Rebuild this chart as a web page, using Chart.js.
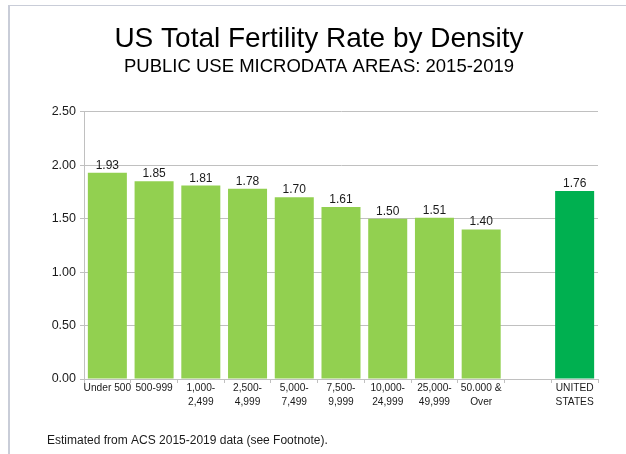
<!DOCTYPE html>
<html>
<head>
<meta charset="utf-8">
<script src="https://cdn.jsdelivr.net/npm/chart.js@4"></script>
<style>
  html, body { margin: 0; padding: 0; background: #ffffff; }
  #wrap { position: relative; width: 626px; height: 454px; overflow: hidden; }
  #frame { position: absolute; left: 8px; top: 5px; right: -2px; bottom: -2px;
           border-top: 1px solid #c9cdd8; border-left: 2px solid #c9cdd8; }
  canvas { position: absolute; left: 0; top: 0; }
</style>
</head>
<body>
<div id="wrap">
  <div id="frame"></div>
  <canvas id="c" width="626" height="454"></canvas>
</div>
<script>
// ---- data ----
const categories = [
  "Under 500", "500-999", ["1,000-", "2,499"], ["2,500-", "4,999"],
  ["5,000-", "7,499"], ["7,500-", "9,999"], ["10,000-", "24,999"],
  ["25,000-", "49,999"], ["50.000 &", "Over"], "", ["UNITED", "STATES"]
];
const fertilityRates = [1.93, 1.85, 1.81, 1.78, 1.70, 1.61, 1.50, 1.51, 1.40, null, 1.76];
const yTickValues = [0, 0.5, 1.0, 1.5, 2.0, 2.5];
const titleText = "US Total Fertility Rate by Density";
const subtitleText = "PUBLIC USE MICRODATA AREAS: 2015-2019";
const footnoteText = "Estimated from ACS 2015-2019 data (see Footnote).";

// ---- styles ----
const LIGHT_GREEN = "#92d050";
const DARK_GREEN = "#00b050";
const GRID = "#c0c0c0";
const SANS = "'Liberation Sans', Arial, sans-serif";

const valueLabels = {
  id: "valueLabels",
  afterDatasetsDraw(chart) {
    const ctx = chart.ctx;
    const meta = chart.getDatasetMeta(0);
    ctx.save();
    ctx.font = "12px " + SANS;
    ctx.fillStyle = "#1a1a1a";
    ctx.textAlign = "center";
    ctx.textBaseline = "alphabetic";
    meta.data.forEach((bar, i) => {
      const v = fertilityRates[i];
      if (v === null) return;
      ctx.fillText(v.toFixed(2), bar.x, bar.y - 4);
    });
    ctx.restore();
  }
};

const footnote = {
  id: "footnote",
  afterDraw(chart) {
    const ctx = chart.ctx;
    ctx.save();
    ctx.font = "12px " + SANS;
    ctx.fillStyle = "#1a1a1a";
    ctx.textAlign = "left";
    ctx.textBaseline = "alphabetic";
    ctx.fillText(footnoteText, 47, 444);
    ctx.restore();
  }
};

new Chart(document.getElementById("c"), {
  type: "bar",
  data: {
    labels: categories,
    datasets: [{
      data: fertilityRates,
      backgroundColor: categories.map((c, i) => i === categories.length - 1 ? DARK_GREEN : LIGHT_GREEN),
      borderWidth: 0,
      barPercentage: 0.835,
      categoryPercentage: 1.0
    }]
  },
  options: {
    responsive: false,
    animation: false,
    layout: { padding: { left: 40, right: 28, top: 0, bottom: 35 } },
    plugins: {
      legend: { display: false },
      tooltip: { enabled: false },
      title: {
        display: true,
        text: titleText,
        color: "#000000",
        font: { family: SANS, size: 28, weight: "normal", lineHeight: 1.2 },
        padding: { top: 22.5, bottom: 0 }
      },
      subtitle: {
        display: true,
        text: subtitleText,
        color: "#000000",
        font: { family: SANS, size: 18.5, weight: "normal", lineHeight: 1.2 },
        padding: { top: 0, bottom: 33.6 }
      }
    },
    scales: {
      x: {
        grid: { display: true, drawOnChartArea: false, drawTicks: true, tickLength: 4, color: GRID, offset: true },
        border: { display: true, color: GRID, width: 1 },
        ticks: {
          color: "#1a1a1a",
          font: { family: SANS, size: 10.2, lineHeight: 1.4 },
          padding: -2,
          maxRotation: 0,
          autoSkip: false
        },
        afterFit(scale) { scale.height = 40; }
      },
      y: {
        min: 0,
        max: 2.5,
        afterBuildTicks(scale) { scale.ticks = yTickValues.map(v => ({ value: v })); },
        grid: { color: GRID, tickLength: 4, drawTicks: true },
        border: { display: true, color: GRID, width: 1 },
        ticks: {
          color: "#1a1a1a",
          font: { family: SANS, size: 12.5 },
          padding: 4,
          callback: (v) => Number(v).toFixed(2)
        },
        afterFit(scale) { scale.width = 44; }
      }
    }
  },
  plugins: [valueLabels, footnote]
});
</script>
</body>
</html>
